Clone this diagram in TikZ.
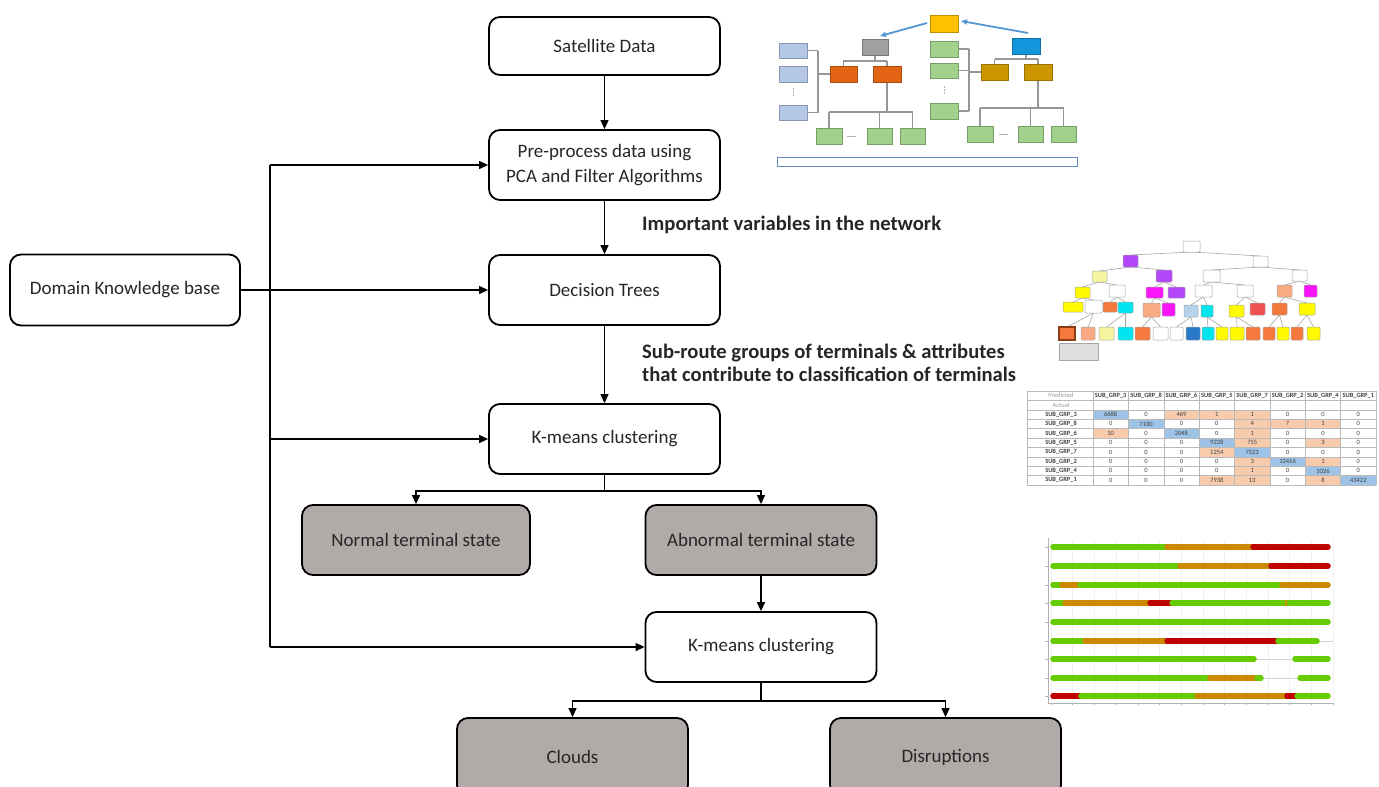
\documentclass[tikz,border=0pt]{standalone}
\usepackage{fontspec}
\setmainfont{Carlito}
\usetikzlibrary{arrows.meta}
\definecolor{boxgray}{RGB}{176,171,169}
\definecolor{txt}{RGB}{38,38,38}
\definecolor{tarrow}{RGB}{84,150,212}
\definecolor{tyel}{RGB}{255,192,0}
\definecolor{tgr}{RGB}{160,160,160}
\definecolor{torng}{RGB}{226,100,20}
\definecolor{tblu}{RGB}{20,150,220}
\definecolor{tgold}{RGB}{204,150,0}
\definecolor{tlblue}{RGB}{180,199,231}
\definecolor{tlgreen}{RGB}{160,210,140}
\definecolor{tline}{RGB}{150,150,150}
\definecolor{tbar}{RGB}{100,140,190}
\definecolor{dbrown}{RGB}{140,60,20}
\definecolor{dpur}{RGB}{180,70,250}
\definecolor{dmag}{RGB}{250,20,250}
\definecolor{dyel}{RGB}{255,250,0}
\definecolor{dlyel}{RGB}{245,245,160}
\definecolor{dsal}{RGB}{250,170,130}
\definecolor{dorg}{RGB}{245,120,60}
\definecolor{dcyan}{RGB}{0,230,240}
\definecolor{dlblue}{RGB}{180,210,235}
\definecolor{dblue}{RGB}{40,120,200}
\definecolor{dred}{RGB}{240,80,80}
\definecolor{cb}{RGB}{157,195,230}
\definecolor{cs}{RGB}{248,203,173}
\definecolor{bg}{RGB}{102,204,0}
\definecolor{bo}{RGB}{204,136,0}
\definecolor{br}{RGB}{192,0,0}
\newcommand\thumbbox[5]{\filldraw[fill=#1,draw=#1!75!black,line width=0.6pt] (#2,#3) rectangle (#4,#5);}
\newcommand\dtbx[5]{\filldraw[fill=#1,draw=gray!70,line width=0.5pt,rounded corners=1pt] (#2,#3) rectangle (#4,#5);}
\newcommand\bseg[4]{\draw[barseg,#1] (#3,#2) -- (#4,#2);}
\begin{document}
\begin{tikzpicture}[x=1pt,y=-1pt,
  box/.style={draw=black,line width=1.8pt,rounded corners=11pt,minimum width=231pt,minimum height=70pt,align=center,fill=white,inner sep=2pt,font=\fontsize{19}{25}\selectfont,text=txt},
  gbox/.style={box,fill=boxgray},
  arr/.style={line width=1.2pt,-{Triangle[length=9pt,width=8pt]}},
  ln/.style={line width=1.2pt},
  lbl/.style={anchor=west,align=left,inner sep=0pt,font=\bfseries\fontsize{20.6}{23}\selectfont,text=txt},
  tl/.style={draw=tline,line width=1.4pt},
  dtl/.style={draw=gray!70,line width=0.6pt},
  tgrid/.style={draw=gray!55,line width=0.4pt},
  thd/.style={inner sep=0pt,font=\fontsize{6.5}{7}\selectfont,text=gray!80},
  tcol/.style={inner sep=0pt,font=\bfseries\fontsize{6.4}{7}\selectfont,text=black!75},
  tval/.style={inner sep=0pt,font=\fontsize{6.5}{7}\selectfont,text=black!75},
  barseg/.style={line width=5.5pt,line cap=round}]
\useasboundingbox (0,0) rectangle (1379,787);

% ---------------- flowchart ----------------
\node[box,minimum height=58pt] (sat) at (604.5,46) {Satellite Data};
\node[box] (pre) at (604.5,165) {Pre-process data using\\PCA and Filter Algorithms};
\node[box] (dt) at (604.5,290) {Decision Trees};
\node[box] (km1) at (604.5,439) {K-means clustering};
\node[gbox,minimum width=228pt] (norm) at (416,540) {Normal terminal state};
\node[gbox] (abn) at (761,540) {Abnormal terminal state};
\node[box] (km2) at (761,647) {K-means clustering};
\node[gbox,minimum height=78pt] (clouds) at (572.5,757) {Clouds};
\node[gbox,minimum height=78pt] (disr) at (945.5,757) {Disruptions};
\node[box,minimum width=230pt,minimum height=71pt] (dk) at (125,290) {Domain Knowledge base};

\draw[arr] (sat) -- (pre);
\draw[arr] (pre) -- (dt);
\draw[arr] (dt) -- (km1);
\coordinate (j1) at (604.5,491);
\draw[ln] (km1) -- (j1);
\draw[arr] (j1) -| (norm);
\draw[arr] (j1) -| (abn);
\draw[arr] (abn) -- (km2);
\coordinate (j2) at (761,701);
\draw[ln] (km2) -- (j2);
\draw[arr] (j2) -| (clouds);
\draw[arr] (j2) -| (disr);
\draw[arr] (dk) -- (dt);
\coordinate (b1) at (270,165);
\coordinate (b3) at (270,439);
\coordinate (b4) at (270,647);
\draw[ln] (b1) -- (b4);
\draw[arr] (b1) -- (pre);
\draw[arr] (b3) -- (km1);
\draw[arr] (b4) -- (km2);

\node[lbl] (l1) at (642,225) {Important variables in the network};
\node[lbl] (l2) at (642,363) {Sub-route groups of terminals \& attributes\\that contribute to classification of terminals};

% ---------------- thumbnail 1: network tree ----------------
\draw[tl] (875,55) -- (875,61) (843,61) -- (887,61) (843.5,61) -- (843.5,66) (887,61) -- (887,66);
\draw[tl] (830,74) -- (818,74) (818,50.5) -- (818,112.5) (807,50.5) -- (818,50.5) (807,112.5) -- (818,112.5);
\draw[tl] (887,82) -- (887,112) (829,112) -- (912.5,112) (829,112) -- (829,128) (879.5,112) -- (879.5,128) (912.5,112) -- (912.5,128);
\draw[tl] (1026,54) -- (1026,59) (994.5,59) -- (1038,59) (994.5,59) -- (994.5,64) (1038,59) -- (1038,64);
\draw[tl] (981,72) -- (969,72) (969,49) -- (969,111) (958,49) -- (969,49) (958,70.5) -- (969,70.5) (958,111) -- (969,111);
\draw[tl] (1038,80) -- (1038,108) (980,108) -- (1063.5,108) (980,108) -- (980,126) (1030.5,108) -- (1030.5,126) (1063.5,108) -- (1063.5,126);
\thumbbox{tyel}{930}{15}{958}{32}
\thumbbox{tgr}{862}{39}{888}{55}
\thumbbox{tblu}{1012}{38}{1040}{54}
\thumbbox{torng}{830}{66}{857}{82}
\thumbbox{torng}{873}{66}{901}{82}
\thumbbox{tgold}{981}{64}{1008}{80}
\thumbbox{tgold}{1024}{64}{1052}{80}
\thumbbox{tlblue}{779}{43}{807}{58}
\thumbbox{tlblue}{779}{66}{807}{82}
\thumbbox{tlblue}{779}{105}{807}{120}
\thumbbox{tlgreen}{930}{41}{958}{57}
\thumbbox{tlgreen}{930}{63}{958}{78}
\thumbbox{tlgreen}{930}{103}{958}{119}
\thumbbox{tlgreen}{816}{128}{842}{144}
\thumbbox{tlgreen}{867}{128}{892}{144}
\thumbbox{tlgreen}{900}{128}{925}{144}
\thumbbox{tlgreen}{967}{126}{993}{142}
\thumbbox{tlgreen}{1018}{126}{1043}{142}
\thumbbox{tlgreen}{1051}{126}{1076}{142}
\draw[gray!60,line width=0.8pt] (847,136) -- (856,136) (999,134) -- (1008,134);
\draw[gray!60,line width=0.8pt,dash pattern=on 1.5pt off 1.5pt] (793,88) -- (793,97) (944,86) -- (944,95);
\draw[tarrow,line width=1.8pt,-{Triangle[length=6pt,width=5pt]}] (927,23) -- (880,36);
\draw[tarrow,line width=1.8pt,-{Triangle[length=6pt,width=5pt]}] (1028,33) -- (961,21);
\draw[draw=tbar,fill=white,line width=0.8pt] (777,157) rectangle (1077,166);

% ---------------- thumbnail 2: decision tree ----------------
\draw[dtl] (1191.5,252) -- (1130.5,255) (1191.5,252) -- (1260.5,256)
  (1130.5,267) -- (1099.5,271) (1130.5,267) -- (1164,270)
  (1260.5,267) -- (1211.5,270) (1260.5,267) -- (1299.5,270)
  (1099.5,282) -- (1082.5,287) (1099.5,282) -- (1117,285)
  (1164,282) -- (1154.5,287) (1164,282) -- (1176.5,287)
  (1211.5,282) -- (1203.5,285) (1211.5,282) -- (1245,285)
  (1299.5,281) -- (1284.5,285) (1299.5,281) -- (1310.5,285)
  (1082.5,298) -- (1073,302) (1082.5,298) -- (1093.5,300)
  (1117,297) -- (1110,302) (1117,297) -- (1125.5,302)
  (1154.5,298) -- (1151.5,303) (1154.5,298) -- (1168.5,303)
  (1203.5,297) -- (1191,305) (1203.5,297) -- (1207,305)
  (1245,297) -- (1236.5,305) (1245,297) -- (1257.5,303)
  (1284.5,297) -- (1279.5,303) (1284.5,297) -- (1307,303)
  (1093.5,313) -- (1067,327) (1093.5,313) -- (1088,327)
  (1125.5,313) -- (1106.5,327) (1125.5,313) -- (1125.5,327)
  (1151.5,317) -- (1142.5,327) (1151.5,317) -- (1160.5,327)
  (1191,317) -- (1176.5,327) (1191,317) -- (1193,327)
  (1207,317) -- (1208,327) (1207,317) -- (1222,327)
  (1236.5,317) -- (1237,327) (1236.5,317) -- (1253,327)
  (1279.5,315) -- (1269,327) (1279.5,315) -- (1283,327)
  (1307,315) -- (1297,327) (1307,315) -- (1313.5,327);
\dtbx{white}{1183}{241}{1200}{252}
\dtbx{dpur}{1123}{255}{1138}{267}
\dtbx{white}{1253}{256}{1268}{267}
\dtbx{dlyel}{1092}{271}{1107}{282}
\dtbx{dpur}{1156}{270}{1172}{282}
\dtbx{white}{1203}{270}{1220}{282}
\dtbx{white}{1292}{270}{1307}{281}
\dtbx{dyel}{1075}{287}{1090}{298}
\dtbx{white}{1109}{285}{1125}{297}
\dtbx{dmag}{1146}{287}{1163}{298}
\dtbx{dpur}{1168}{287}{1185}{298}
\dtbx{white}{1195}{285}{1212}{297}
\dtbx{white}{1237}{285}{1253}{297}
\dtbx{dsal}{1277}{285}{1292}{297}
\dtbx{dmag}{1304}{285}{1317}{297}
\dtbx{dyel}{1063}{302}{1083}{312}
\dtbx{white}{1085}{300}{1102}{313}
\dtbx{dorg}{1103}{302}{1117}{312}
\dtbx{dcyan}{1118}{302}{1133}{313}
\dtbx{dsal}{1143}{303}{1160}{317}
\dtbx{dmag}{1162}{303}{1175}{316}
\dtbx{dlblue}{1184}{305}{1198}{317}
\dtbx{dcyan}{1201}{305}{1213}{317}
\dtbx{dyel}{1229}{305}{1244}{317}
\dtbx{dred}{1250}{303}{1265}{315}
\dtbx{dorg}{1272}{303}{1287}{315}
\dtbx{dyel}{1299}{303}{1315}{315}
\filldraw[fill=dorg,draw=dbrown,line width=1.5pt] (1059,327) rectangle (1075,340);
\dtbx{dsal}{1081}{327}{1095}{340}
\dtbx{dlyel}{1099}{327}{1114}{340}
\dtbx{dcyan}{1118}{327}{1133}{340}
\dtbx{dorg}{1135}{327}{1150}{340}
\dtbx{white}{1153}{327}{1168}{340}
\dtbx{white}{1170}{327}{1183}{340}
\dtbx{dblue}{1186}{327}{1200}{340}
\dtbx{dcyan}{1202}{327}{1214}{340}
\dtbx{dyel}{1216}{327}{1228}{340}
\dtbx{dyel}{1230}{327}{1244}{340}
\dtbx{dorg}{1246}{327}{1260}{340}
\dtbx{dorg}{1263}{327}{1275}{340}
\dtbx{dyel}{1277}{327}{1289}{340}
\dtbx{dorg}{1291}{327}{1303}{340}
\dtbx{dyel}{1307}{327}{1320}{340}
\filldraw[fill=gray!25,draw=gray!70,line width=0.8pt] (1059,343) rectangle (1098,360);

% ---------------- thumbnail 3: confusion table ----------------
\foreach \r/\c/\cc in {1/1/cb,1/3/cs,1/4/cs,1/5/cs,2/2/cb,2/5/cs,2/6/cs,2/7/cs,3/1/cs,3/3/cb,3/5/cs,4/4/cb,4/5/cs,4/7/cs,5/4/cs,5/5/cb,6/5/cs,6/6/cb,6/7/cs,7/5/cs,7/7/cb,8/4/cs,8/5/cs,8/7/cs,8/8/cb}
  {\pgfmathsetmacro\xa{1093+(\c-1)*35.375}\pgfmathsetmacro\ya{391+(\r+1)*9.4}
   \fill[\cc] (\xa,\ya) rectangle (\xa+35.375,\ya+9.4);}
\foreach \i in {0,...,10} \draw[tgrid] (1027,391+\i*9.4) -- (1376,391+\i*9.4);
\draw[tgrid] (1027,391) -- (1027,485);
\foreach \c in {0,...,8} \draw[tgrid] (1093+\c*35.375,391) -- (1093+\c*35.375,485);
\node[thd] (pred) at (1061,395.7) {Predicted};
\node[thd] (act) at (1061,405.1) {Actual};
\foreach \h [count=\c] in {SUB\_GRP\_3,SUB\_GRP\_8,SUB\_GRP\_6,SUB\_GRP\_5,SUB\_GRP\_7,SUB\_GRP\_2,SUB\_GRP\_4,SUB\_GRP\_1}
  \node[tcol] (h\c) at ({1093+(\c-0.5)*35.375},395.7) {\h};
\foreach \h [count=\r] in {SUB\_GRP\_3,SUB\_GRP\_8,SUB\_GRP\_6,SUB\_GRP\_5,SUB\_GRP\_7,SUB\_GRP\_2,SUB\_GRP\_4,SUB\_GRP\_1}
  \node[tcol] (rl\r) at (1061,{391+(\r+1.5)*9.4}) {\h};
\foreach \vals [count=\r] in {{6688,0,469,1,1,0,0,0},{0,7180,0,0,4,7,1,0},{10,0,2048,0,1,0,0,0},{0,0,0,9228,755,0,3,0},{0,0,0,1254,7523,0,0,0},{0,0,0,0,3,12416,1,0},{0,0,0,0,1,0,1026,0},{0,0,0,7938,13,0,8,43422}}
  {\foreach \v [count=\c] in \vals
    {\node[tval] (v\r-\c) at ({1093+(\c-0.5)*35.375},{391+(\r+1.5)*9.4}) {\v};}}

% ---------------- thumbnail 4: state bars ----------------
\foreach \i in {0,...,13} \draw[gray!12,line width=0.5pt] (1051+\i*21.7,540) -- (1051+\i*21.7,703);
\draw[gray!60,line width=0.5pt] (1048,538) -- (1048,703) -- (1333,703);
\foreach \yy in {547,566,585,603,622,641,659,678,696} \draw[gray!60,line width=0.5pt] (1045,\yy) -- (1048,\yy);
\foreach \i in {0,...,13} \draw[gray!60,line width=0.5pt] (1051+\i*21.7,703) -- (1051+\i*21.7,705);
\draw[gray!35,line width=0.6pt] (1317,641) -- (1333,641) (1254,659) -- (1295,659) (1261,678) -- (1297,678);
\bseg{bg}{547}{1053}{1167}\bseg{bo}{547}{1167}{1253}\bseg{br}{547}{1253}{1328}
\bseg{bg}{566}{1053}{1180}\bseg{bo}{566}{1180}{1271}\bseg{br}{566}{1271}{1328}
\bseg{bg}{585}{1053}{1062}\bseg{bo}{585}{1062}{1080}\bseg{bg}{585}{1080}{1282}\bseg{bo}{585}{1282}{1328}
\bseg{bg}{603}{1053}{1065}\bseg{bo}{603}{1065}{1150}\bseg{br}{603}{1150}{1172}\bseg{bg}{603}{1172}{1287}\bseg{bo}{603}{1287}{1289}\bseg{bg}{603}{1289}{1328}
\bseg{bg}{622}{1053}{1328}
\bseg{bg}{641}{1053}{1085}\bseg{bo}{641}{1085}{1167}\bseg{br}{641}{1167}{1278}\bseg{bg}{641}{1278}{1317}
\bseg{bg}{659}{1053}{1254}\bseg{bg}{659}{1295}{1328}
\bseg{bg}{678}{1053}{1210}\bseg{bo}{678}{1210}{1257}\bseg{bg}{678}{1257}{1261}\bseg{bg}{678}{1300}{1328}
\bseg{br}{696}{1053}{1081}\bseg{bg}{696}{1081}{1197}\bseg{bo}{696}{1197}{1287}\bseg{br}{696}{1287}{1297}\bseg{bg}{696}{1297}{1328}
\end{tikzpicture}
\end{document}
